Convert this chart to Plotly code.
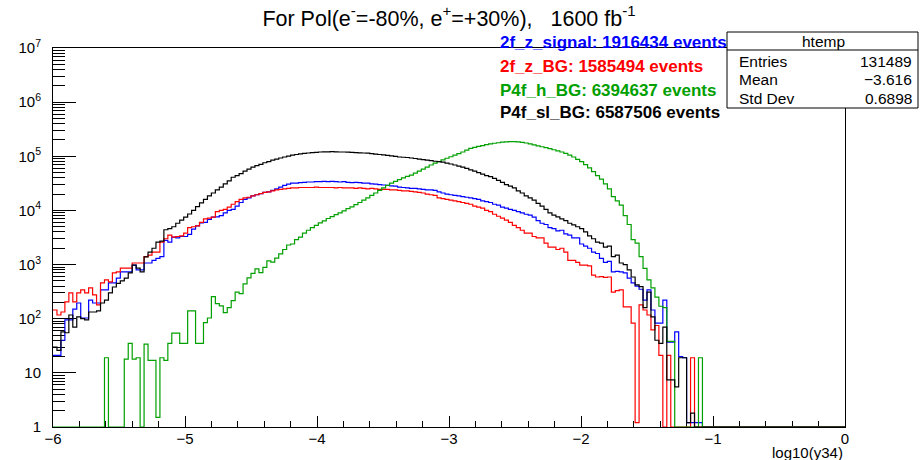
import plotly.graph_objects as go

# ---------------- data (200 bins, -6 .. 0, width 0.03) ----------------
x_min, x_max, n_bins = -6.0, 0.0, 200

signal_2f_z = [21, 21, 40, 95, 95, 150, 195, 103, 103, 220,
               195, 195, 340, 340, 460, 460, 560, 730, 730, 730,
               980, 800, 800, 1070, 1070, 1200, 1300, 1400, 2800, 2600,
               3200, 3100, 3300, 3300, 3600, 4500, 5200, 5900, 6000, 6800,
               7500, 7600, 8000, 9000, 10000, 10500, 12000, 14000, 16000, 17000,
               18500, 19500, 20500, 21500, 22000, 23500, 25000, 27000, 29000, 30500,
               32000, 32000, 32500, 33000, 33500, 33500, 34000, 34000, 34500, 34000,
               34500, 34000, 33500, 34000, 33000, 32500, 33000, 32500, 32000, 32000,
               31000, 30500, 30000, 29500, 29000, 28500, 28000, 27000, 26500, 26000,
               25500, 25500, 25000, 24500, 24000, 24000, 23500, 22000, 21000, 20000,
               19500, 19000, 18500, 18000, 17500, 17000, 16500, 16000, 15000, 14500,
               14000, 13000, 12500, 11500, 11000, 10500, 10000, 9500, 9000, 8500,
               8200, 7500, 6500, 5800, 5500, 4800, 4600, 4200, 4300, 3700,
               3500, 3100, 3100, 2400, 2200, 2000, 1700, 1600, 1300, 1100,
               1150, 730, 750, 730, 700, 560, 460, 400, 350, 220,
               340, 145, 83, 83, 220, 37, 37, 57, 20, 19,
               1.2, 1.2, 1.2, 1.2, 0, 0, 0, 0, 0, 0,
               0, 0, 0, 0, 0, 0, 0, 0, 0, 0,
               0, 0, 0, 0, 0, 0, 0, 0, 0, 0,
               0, 0, 0, 0, 0, 0, 0, 0, 0, 0]

bg_2f_z = [145, 117, 133, 205, 300, 205, 300, 340, 300, 370,
           275, 180, 460, 520, 480, 700, 730, 860, 860, 860,
           1070, 1070, 1070, 1400, 1500, 1700, 1700, 2600, 3000, 3500,
           3200, 3300, 3400, 3800, 4800, 5000, 5200, 6000, 7000, 7200,
           7500, 9500, 10000, 10500, 11500, 13000, 14500, 16000, 17000, 17500,
           18500, 19500, 20500, 21500, 22000, 23000, 24000, 24500, 25000, 25500,
           26000, 26000, 26500, 26500, 26500, 26500, 27000, 26500, 26500, 26500,
           26500, 26000, 26500, 26000, 26000, 26000, 25500, 26000, 25500, 25000,
           25500, 25000, 24500, 24500, 24500, 24000, 24000, 23500, 23000, 23000,
           22500, 22000, 21500, 21000, 20000, 19500, 19000, 17000, 16500, 16000,
           15500, 15000, 14500, 14000, 13500, 13000, 12000, 11500, 11000, 10000,
           9500, 8500, 7800, 7200, 6600, 6000, 5300, 4800, 4300, 3800,
           3800, 3300, 3100, 3100, 2500, 2100, 2100, 1900, 2000, 1700,
           1200, 1200, 1100, 980, 980, 950, 640, 590, 600, 580,
           590, 310, 330, 340, 165, 165, 83, 1.2, 180, 145,
           117, 62, 75, 21, 0, 21, 0, 0, 0, 0,
           0, 19, 0, 0, 0, 0, 0, 0, 0, 0,
           0, 0, 0, 0, 0, 0, 0, 0, 0, 0,
           0, 0, 0, 0, 0, 0, 0, 0, 0, 0,
           0, 0, 0, 0, 0, 0, 0, 0, 0, 0]

h_bg_p4f = [0, 0, 0, 0, 0, 0, 0, 0, 0, 0,
            0, 0, 0, 19, 0, 0, 0, 0, 18, 35,
            18, 19, 0, 34, 17, 17, 1.5, 19, 17, 35,
            54, 54, 35, 35, 140, 140, 35, 35, 85, 103,
            255, 190, 172, 130, 160, 215, 310, 290, 440, 570,
            690, 830, 710, 890, 1170, 1110, 1320, 1580, 1900, 2300,
            2400, 2900, 3200, 3800, 4300, 4800, 5300, 5900, 6400, 7100,
            7700, 8400, 9000, 9800, 10800, 11600, 12800, 14000, 15500, 17000,
            19000, 21000, 23500, 26000, 29000, 32000, 34500, 37000, 40000, 42500,
            45000, 49000, 53000, 58000, 63000, 69000, 75000, 80000, 86000, 92000,
            98000, 105000, 112000, 120000, 130000, 140000, 146000, 152000, 158000, 164000,
            170000, 174000, 178000, 182000, 185000, 186000, 186000, 184000, 181000, 176000,
            170000, 163000, 156000, 150000, 144000, 138000, 132000, 126000, 120000, 113000,
            105000, 97000, 88000, 80000, 70000, 61000, 52000, 44000, 38000, 31000,
            25000, 18000, 15000, 12500, 8000, 5500, 2900, 2500, 1400, 850,
            520, 370, 250, 170, 160, 38, 38, 0, 0, 0,
            0, 0, 0, 19, 0, 0, 0, 0, 0, 0,
            0, 0, 0, 0, 0, 0, 0, 0, 0, 0,
            0, 0, 0, 0, 0, 0, 0, 0, 0, 0,
            0, 0, 0, 0, 0, 0, 0, 0, 0, 0]

sl_bg_p4f = [30, 26, 57, 55, 117, 70, 108, 100, 95, 133,
             133, 140, 195, 220, 300, 385, 450, 500, 560, 700,
             980, 860, 730, 1390, 1700, 2000, 2600, 2700, 4400, 4600,
             5000, 5800, 6600, 7500, 8600, 10000, 11800, 13800, 16000, 18500,
             21000, 24000, 27000, 31000, 35000, 41000, 44000, 48000, 53000, 58000,
             63000, 67000, 71000, 76000, 80000, 85000, 89000, 93000, 97000, 101000,
             105000, 108000, 111000, 113000, 115000, 117000, 118000, 120000, 121000, 121000,
             122000, 121000, 120000, 120000, 119000, 118000, 117000, 116000, 115000, 114000,
             112000, 110000, 108000, 106000, 104000, 102000, 100000, 97000, 96000, 95000,
             93000, 91000, 89000, 87000, 85000, 83000, 81000, 80000, 78000, 75000,
             72000, 69000, 66000, 63000, 60000, 56000, 53000, 50000, 47000, 44000,
             42000, 39000, 36000, 33000, 30000, 28000, 26000, 23000, 21000, 18500,
             17000, 15500, 13500, 12000, 10500, 9000, 8200, 7600, 7000, 6500,
             5800, 5400, 5000, 4600, 4000, 3400, 3000, 2600, 2500, 2100,
             2200, 1400, 1500, 1070, 1000, 800, 590, 420, 390, 160,
             310, 108, 40, 35, 70, 7.4, 7.4, 5.5, 19, 19,
             1.2, 1.8, 0, 0, 0, 0, 0, 0, 0, 0,
             0, 0, 0, 0, 0, 0, 0, 0, 0, 0,
             0, 0, 0, 0, 0, 0, 0, 0, 0, 0,
             0, 0, 0, 0, 0, 0, 0, 0, 0, 0]

series_names = ["2f_z_signal", "2f_z_BG", "P4f_h_BG", "P4f_sl_BG"]
series_events = [1916434, 1585494, 6394637, 6587506]
series_colors = ["#0000ff", "#ff0000", "#00a000", "#000000"]
series_values = [signal_2f_z, bg_2f_z, h_bg_p4f, sl_bg_p4f]

y_tick_vals = [1, 10, 100, 1000, 1e4, 1e5, 1e6, 1e7]
y_tick_text = ["1", "10", "10<sup>2</sup>", "10<sup>3</sup>", "10<sup>4</sup>",
               "10<sup>5</sup>", "10<sup>6</sup>", "10<sup>7</sup>"]

stats_rows = [("Entries", "131489"), ("Mean", "\u22123.616"), ("Std Dev", "0.6898")]

# ---------------- figure ----------------
W, H = 920, 460
L, R, T, B = 53, 845, 48, 427
FONT = "Liberation Sans, Arial, Helvetica, sans-serif"

width = (x_max - x_min) / n_bins
edges = [x_min + i * width for i in range(n_bins + 1)]

fig = go.Figure()
for name, vals, col in zip(series_names, series_values, series_colors):
    yv = [v if v > 0 else 1 for v in vals]
    fig.add_trace(go.Scatter(x=edges, y=yv + [yv[-1]], mode="lines",
                             line=dict(shape="hv", color=col, width=1.2),
                             name=name, showlegend=False, hoverinfo="skip"))

minor_y = [m * 10 ** e for e in range(7) for m in range(2, 10)]

NB = "\u00a0"
title_text = (f"For Pol(e<sup>-</sup>=-80%, e<sup>+</sup>=+30%),{NB}{NB}{NB}1600 fb<sup>-1</sup>")

fig.update_layout(
    width=W, height=H,
    margin=dict(l=L, r=W - R, t=T, b=H - B, pad=0),
    paper_bgcolor="white", plot_bgcolor="white",
    font=dict(family=FONT, size=14, color="black"),
    title=dict(text=title_text,
               x=449 / W, xanchor="center", y=1 - 18 / H, yanchor="middle",
               font=dict(family=FONT, size=21.5, color="black")),
    xaxis=dict(range=[x_min, x_max], showgrid=False, zeroline=False,
               showline=True, linecolor="black", linewidth=1, mirror=True,
               ticks="inside", ticklen=11, tickcolor="black", tickwidth=1,
               dtick=1, tick0=0, layer="below traces",
               tickfont=dict(size=15), ticklabelstandoff=-2,
               minor=dict(ticks="inside", ticklen=6, dtick=0.2, tick0=0,
                          tickcolor="black", showgrid=False)),
    yaxis=dict(type="log", range=[0, 7], showgrid=False, zeroline=False,
               showline=True, linecolor="black", linewidth=1, mirror=True,
               ticks="inside", ticklen=23, tickcolor="black", tickwidth=1,
               tickmode="array", tickvals=y_tick_vals, ticktext=y_tick_text,
               layer="below traces", tickfont=dict(size=15),
               ticklabelstandoff=8,
               minor=dict(ticks="inside", ticklen=12, tickmode="array",
                          tickvals=minor_y, tickcolor="black", showgrid=False)),
)

# legend-like coloured texts
leg_y = [43, 66, 90, 113]
for name, ev, col, yy in zip(series_names, series_events, series_colors, leg_y):
    fig.add_annotation(xref="paper", yref="paper",
                       x=(498 - L) / (R - L), y=(B - yy) / (B - T),
                       xanchor="left", yanchor="middle", showarrow=False,
                       text=f"<b>{name}: {ev} events</b>",
                       font=dict(family=FONT, size=17, color=col))

# stats box
def px(xp):
    return (xp - L) / (R - L)

def py(yp):
    return (B - yp) / (B - T)

box_l, box_r, box_t, box_b, box_sep = 727, 918, 32, 108, 50
fig.add_shape(type="rect", xref="paper", yref="paper",
              x0=px(box_l), x1=px(box_r), y0=py(box_b), y1=py(box_t),
              line=dict(color="black", width=1), fillcolor="white", layer="above")
fig.add_shape(type="line", xref="paper", yref="paper",
              x0=px(box_l), x1=px(box_r), y0=py(box_sep), y1=py(box_sep),
              line=dict(color="black", width=1))
fig.add_annotation(xref="paper", yref="paper", x=px(823), y=py(41),
                   xanchor="center", yanchor="middle", showarrow=False,
                   text="htemp", font=dict(family=FONT, size=15.5))
for i, (k, v) in enumerate(stats_rows):
    yy = 61 + 18.5 * i
    fig.add_annotation(xref="paper", yref="paper", x=px(737), y=py(yy),
                       xanchor="left", yanchor="middle", showarrow=False,
                       text=k, font=dict(family=FONT, size=15.5))
    fig.add_annotation(xref="paper", yref="paper", x=px(914), y=py(yy),
                       xanchor="right", yanchor="middle", showarrow=False,
                       text=v, font=dict(family=FONT, size=15.5))

# x-axis title
fig.add_annotation(xref="paper", yref="paper", x=1, y=py(452),
                   xanchor="right", yanchor="middle", showarrow=False,
                   text="log10(y34)", font=dict(family=FONT, size=15))

fig.write_html("out.html")
